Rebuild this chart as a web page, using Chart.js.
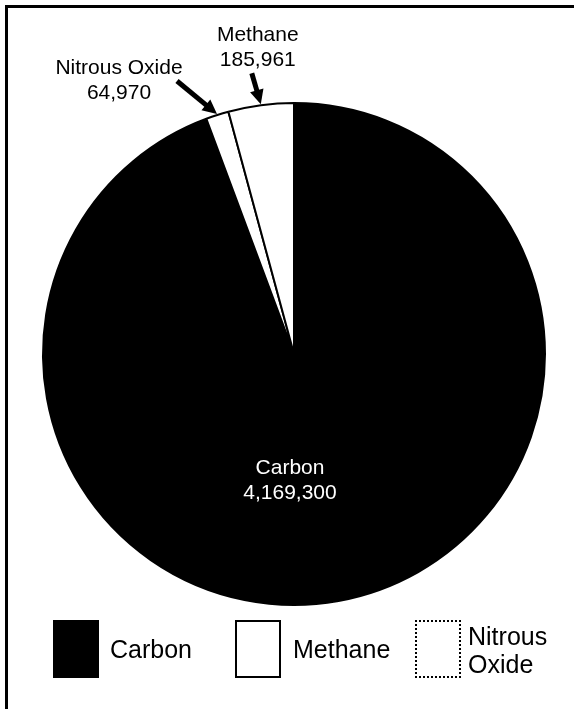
<!DOCTYPE html>
<html>
<head>
<meta charset="utf-8">
<script src="https://cdn.jsdelivr.net/npm/chart.js@4/dist/chart.umd.min.js"></script>
<style>
  body { margin: 0; background: #fff; font-family: "Liberation Sans", Arial, sans-serif; }
  #wrap { position: relative; width: 574px; height: 709px; overflow: hidden; }
  #frame { position: absolute; left: 5px; top: 5px; width: 580px; height: 720px;
           border-left: 3px solid #000; border-top: 3px solid #000; }
  canvas { position: absolute; left: 0; top: 0; }
  .key { position: absolute; top: 620px; width: 42px; height: 54px; border: 2px solid #000; }
  .ktext { position: absolute; font-size: 25px; color: #000; line-height: 28px; }
</style>
</head>
<body>
<div id="wrap">
  <div id="frame"></div>
  <canvas id="pie" width="574" height="709"></canvas>
  <div class="key" style="left:53px; background:#000"></div>
  <div class="ktext" style="left:110px; top:635px">Carbon</div>
  <div class="key" style="left:235px; background:#fff"></div>
  <div class="ktext" style="left:293px; top:635px">Methane</div>
  <div class="key" style="left:415px; background:#fff; border-style:dotted"></div>
  <div class="ktext" style="left:468px; top:622px">Nitrous<br>Oxide</div>
</div>
<script>
// slices clockwise from 12 o'clock
var gases = ["Carbon", "Nitrous Oxide", "Methane"];
var emissions = [4169300, 64970, 185961];
var valueText = ["4,169,300", "64,970", "185,961"];
var fills = ['#000000', '#ffffff', '#ffffff'];

// where the call-outs sit, relative to the slice's outer mid point
var callout = {
  "Nitrous Oxide": { from: [-40, -33], text: [-98, -40] },
  "Methane": { from: [-9, -31], text: [-3, -63] }
};

var labelPlugin = {
  id: 'pieLabels',
  afterDatasetsDraw: function(chart) {
    var ctx = chart.ctx;
    var meta = chart.getDatasetMeta(0);
    ctx.save();
    ctx.font = '21px "Liberation Sans", Arial, sans-serif';
    ctx.textAlign = 'center';
    ctx.textBaseline = 'alphabetic';
    meta.data.forEach(function(arc, i) {
      var name = gases[i];
      var mid = (arc.startAngle + arc.endAngle) / 2;
      if (i == 0) {
        // big slice, label inside
        ctx.fillStyle = '#fff';
        ctx.fillText(name, arc.x - 4, arc.y + arc.outerRadius * 0.48);
        ctx.fillText(valueText[i], arc.x - 4, arc.y + arc.outerRadius * 0.48 + 25);
        return;
      }
      var c = callout[name];
      var tx = arc.x + Math.cos(mid) * (arc.outerRadius + 1);
      var ty = arc.y + Math.sin(mid) * (arc.outerRadius + 1);
      var fx = tx + c.from[0], fy = ty + c.from[1];
      var ang = Math.atan2(ty - fy, tx - fx);
      var head = 16;
      ctx.strokeStyle = '#000';
      ctx.fillStyle = '#000';
      ctx.lineWidth = 5;
      ctx.beginPath();
      ctx.moveTo(fx, fy);
      ctx.lineTo(tx - Math.cos(ang) * head * 0.8, ty - Math.sin(ang) * head * 0.8);
      ctx.stroke();
      ctx.beginPath();
      ctx.moveTo(tx, ty);
      ctx.lineTo(tx - Math.cos(ang - 0.45) * head, ty - Math.sin(ang - 0.45) * head);
      ctx.lineTo(tx - Math.cos(ang + 0.45) * head, ty - Math.sin(ang + 0.45) * head);
      ctx.closePath();
      ctx.fill();
      var lx = tx + c.text[0], ly = ty + c.text[1];
      ctx.fillText(name, lx, ly);
      ctx.fillText(valueText[i], lx, ly + 25);
    });
    ctx.restore();
  }
};

window.onload = function() {
  var ctx = document.getElementById('pie').getContext('2d');
  var chart = new Chart(ctx, {
    type: 'pie',
    data: {
      labels: gases,
      datasets: [{
        data: emissions,
        backgroundColor: fills,
        borderColor: '#000',
        borderWidth: 2
      }]
    },
    options: {
      responsive: false,
      animation: false,
      layout: { padding: { left: 41, right: 27, top: 102, bottom: 103 } },
      plugins: { legend: { display: false }, tooltip: { enabled: false } }
    },
    plugins: [labelPlugin]
  });
};
</script>
</body>
</html>
